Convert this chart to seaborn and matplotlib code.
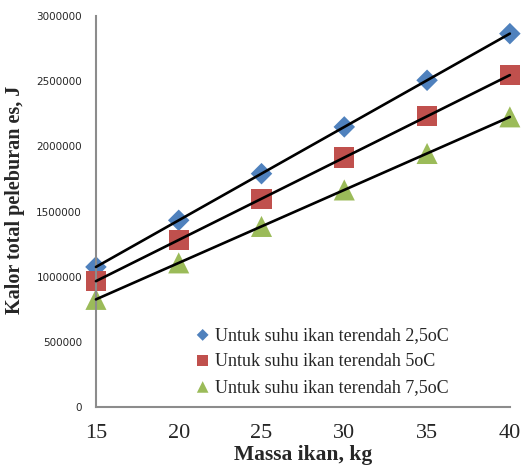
import numpy as np
import pandas as pd
import matplotlib
matplotlib.use("Agg")
import matplotlib.pyplot as plt
import seaborn as sns

massa = [15, 20, 25, 30, 35, 40]
kalor_25 = [1075000, 1433000, 1791000, 2150000, 2508000, 2866000]
kalor_50 = [966000, 1282000, 1599000, 1915000, 2231000, 2548000]
kalor_75 = [826000, 1106000, 1386000, 1666000, 1946000, 2227000]
labels = ["Untuk suhu ikan terendah 2,5oC",
          "Untuk suhu ikan terendah 5oC",
          "Untuk suhu ikan terendah 7,5oC"]
colors = ["#4F81BD", "#C0504D", "#9BBB59"]
markers = ["D", "s", "^"]
yticks = [0, 500000, 1000000, 1500000, 2000000, 2500000, 3000000]
xticks = [15, 20, 25, 30, 35, 40]

df = pd.concat([
    pd.DataFrame({"massa": massa, "kalor": vals, "seri": lab})
    for vals, lab in zip([kalor_25, kalor_50, kalor_75], labels)
])

sns.set_style("white")
fig = plt.figure(figsize=(5.30, 4.76), dpi=100)
ax = fig.add_axes([0.181, 0.145, 0.781, 0.821])

sizes = {labels[0]: 120, labels[1]: 210, labels[2]: 230}
for lab, col, mk in zip(labels, colors, markers):
    sub = df[df["seri"] == lab]
    sns.scatterplot(data=sub, x="massa", y="kalor", color=col, marker=mk,
                    s=sizes[lab], edgecolor="none", ax=ax, label=lab, zorder=2)
    sns.regplot(data=sub, x="massa", y="kalor", scatter=False, ci=None,
                truncate=True, line_kws={"color": "black", "lw": 1.9, "zorder": 3},
                ax=ax)

ax.set_xlim(15, 40)
ax.set_ylim(0, 3000000)
ax.set_xticks(xticks)
ax.set_yticks(yticks)
ax.set_xticklabels([str(x) for x in xticks], fontfamily="Liberation Serif", fontsize=16)
ax.set_yticklabels([str(y) for y in yticks], fontfamily="DejaVu Sans", fontsize=7.5)
ax.tick_params(axis="both", length=0)
ax.tick_params(axis="x", pad=12)
ax.tick_params(axis="y", pad=10)
for side in ["top", "right"]:
    ax.spines[side].set_visible(False)
for side in ["left", "bottom"]:
    ax.spines[side].set_color("#8c8c8c")
    ax.spines[side].set_linewidth(1.5)
for coll in ax.collections:
    coll.set_clip_on(False)
for ln in ax.lines:
    ln.set_clip_on(False)

ax.set_xlabel("Massa ikan, kg", fontfamily="Liberation Serif", fontweight="bold",
              fontsize=15.5, labelpad=2)
ax.set_ylabel("Kalor total peleburan es, J", fontfamily="Liberation Serif",
              fontweight="bold", fontsize=14.5, labelpad=1)
ax.yaxis.set_label_coords(-0.172, 0.53)

leg = ax.legend(loc="upper left", bbox_to_anchor=(181 / 530, 1 - 314 / 476),
                bbox_transform=fig.transFigure, frameon=False,
                prop={"family": "Liberation Serif", "size": 13},
                markerscale=0.55, handletextpad=0.2, labelspacing=0.5,
                handlelength=1.0, borderpad=0.2)

fig.savefig("out.png", dpi=100, facecolor="white")
